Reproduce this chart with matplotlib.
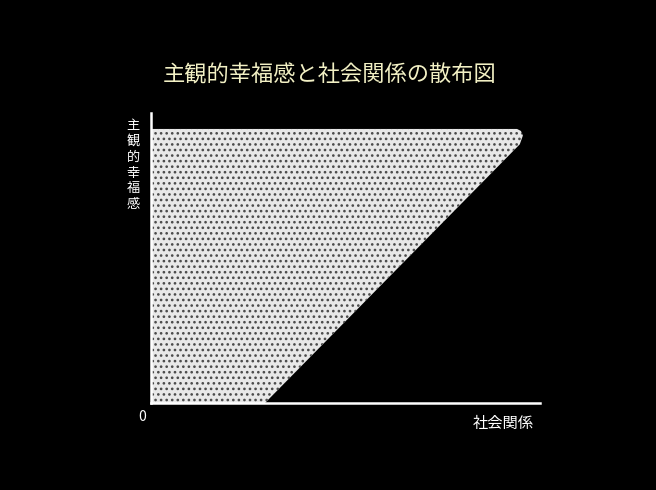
import matplotlib.pyplot as plt

plt.rcParams['font.family'] = ['Noto Sans CJK JP', 'DejaVu Sans']

# shaded region (social relations vs subjective well-being), axes run 0..10
region_x = [0, 0, 9.41, 9.51, 9.56, 9.48, 2.93]
region_y = [0, 9.45, 9.45, 9.38, 9.22, 8.92, 0]

title = '主観的幸福感と社会関係の散布図'
ylabel = '主観的幸福感'
xlabel = '社会関係'

fig = plt.figure(figsize=(6.56, 4.9), dpi=100, facecolor='black')
ax = fig.add_axes([151 / 656, 87 / 490, 389 / 656, 290 / 490])
ax.set_facecolor('black')

plt.rcParams['hatch.linewidth'] = 1.1
ax.fill(region_x, region_y, facecolor='#e8e8e8', edgecolor='#4a4a4a',
        hatch='...', linewidth=0, zorder=1)

ax.set_xlim(0, 10)
ax.set_ylim(0, 10)
for side in ['top', 'right']:
    ax.spines[side].set_visible(False)
for side in ['left', 'bottom']:
    ax.spines[side].set_color('white')
    ax.spines[side].set_linewidth(1.8)
    ax.spines[side].set_zorder(3)
ax.set_xticks([])
ax.set_yticks([])

ax.text(-0.022, -0.048, '0', transform=ax.transAxes, color='white',
        fontsize=10, ha='center', va='center')
ax.text(0.905, -0.072, xlabel, transform=ax.transAxes, color='white',
        fontsize=11, ha='center', va='center')
ax.text(-0.046, 0.82, '\n'.join(ylabel), transform=ax.transAxes, color='white',
        fontsize=9.5, ha='center', va='center', linespacing=1.28)

fig.text(0.503, 0.847, title, color='#f2f0c4', fontsize=16,
         ha='center', va='center')

fig.savefig('out.png', dpi=100, facecolor='black')
